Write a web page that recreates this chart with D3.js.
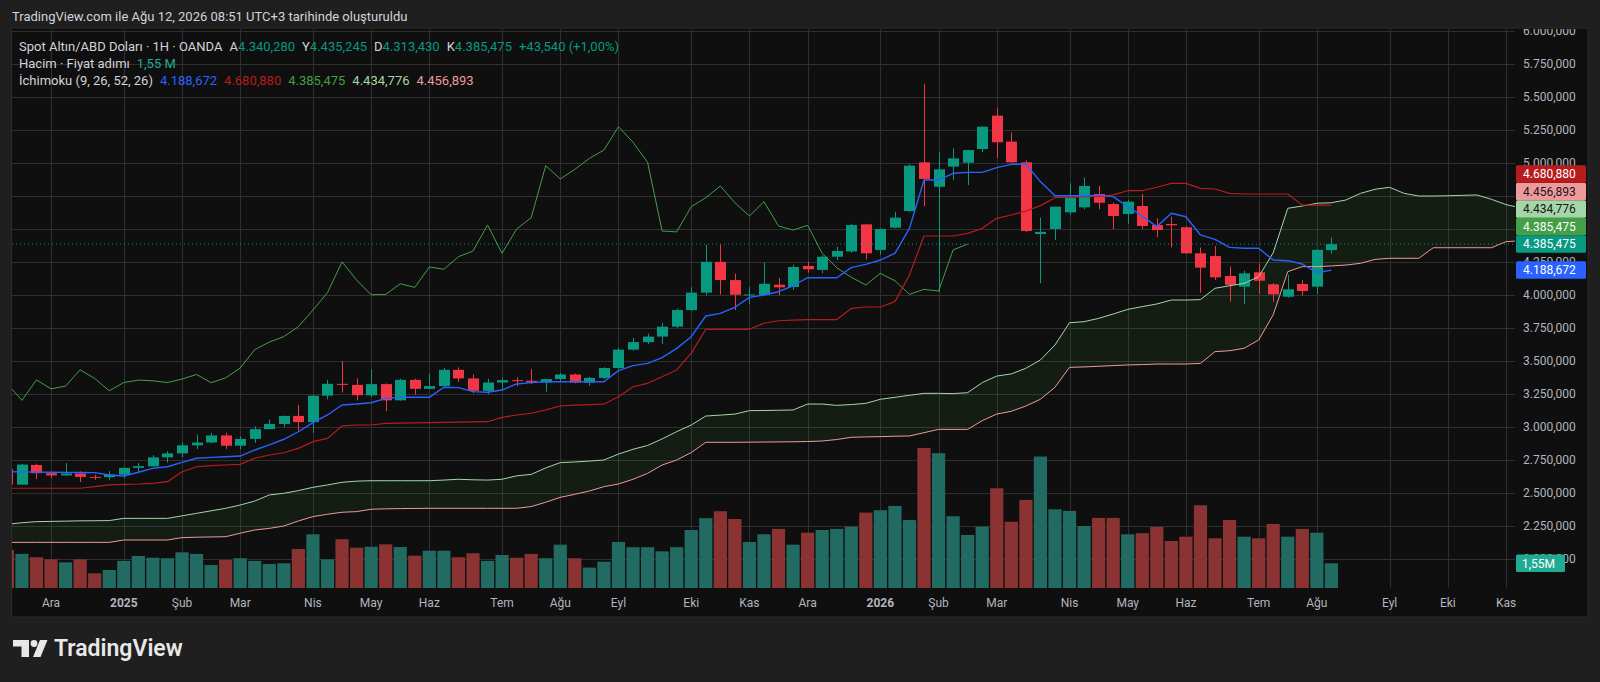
<!DOCTYPE html>
<html lang="tr">
<head>
<meta charset="utf-8">
<title>Spot Altın/ABD Doları · 1H · OANDA</title>
<script src="https://cdnjs.cloudflare.com/ajax/libs/d3/7.8.5/d3.min.js"></script>
<style>
  html, body { margin: 0; padding: 0; background: #1f1f1f; }
  svg { display: block; font-family: Roboto, "Noto Sans", sans-serif; }
</style>
</head>
<body>
<svg id="chart"></svg>
<script>
// weekly bars, Monday 2024-11-11 ... Monday 2026-08-10 (92 bars)
const opens = [2684,2563,2712,2650,2633,2648,2622,2620,2639,2690,2702,2770,2800,2861,2883,2936,2858,2910,2984,3023,
  3084,3037,3237,3327,3319,3240,3325,3202,3357,3289,3310,3433,3368,3274,3337,3355,3350,3337,3363,3398,
  3336,3372,3447,3586,3643,3685,3760,3886,4018,4251,4113,3998,4000,4078,4060,4220,4190,4290,4330,4535,
  4341,4510,4636,5005,4820,4973,5002,5106,5359,5162,5005,4462,4500,4626,4664,4765,4689,4614,4674,4530,
  4538,4513,4316,4295,4144,4063,4172,4081,3987,4083,4063,4340.28];
const highs = [2690,2721,2722,2658,2726,2664,2639,2665,2694,2726,2786,2817,2886,2942,2955,2956,2930,3005,3057,3086,
  3167,3245,3357,3500,3369,3435,3330,3366,3366,3403,3446,3452,3398,3365,3375,3377,3439,3363,3409,3404,
  3379,3453,3599,3675,3707,3790,3897,4059,4380,4381,4161,4060,4245,4130,4230,4252,4300,4366,4540,4540,
  4505,4631,4990,5598,5081,5111,5100,5280,5414,5232,5020,4586,4670,4846,4889,4826,4700,4720,4765,4581,
  4593,4520,4360,4371,4215,4184,4240,4090,4152,4114,4345,4435.245];
const lows = [2537,2563,2605,2614,2632,2583,2600,2596,2614,2656,2700,2730,2772,2832,2877,2833,2832,2880,2982,3000,
  2971,2957,3210,3260,3202,3228,3120,3200,3245,3285,3293,3340,3255,3247,3282,3309,3325,3268,3346,3331,
  3311,3364,3436,3578,3627,3630,3750,3880,3998,4004,3886,3930,3998,3998,4038,4170,4165,4265,4320,4270,
  4305,4505,4630,4674,4020,4871,4833,5081,5038,5000,4475,4089,4417,4606,4650,4649,4500,4540,4500,4437,
  4361,4310,4017,4114,3949,3932,4008,3949,3980,3995,4008,4313.43];
const closes = [2563,2715,2650,2633,2648,2622,2621,2640,2690,2703,2770,2800,2861,2882,2936,2858,2910,2984,3023,3084,
  3037,3237,3327,3319,3241,3325,3202,3357,3289,3310,3433,3368,3274,3337,3355,3350,3337,3363,3398,3336,
  3372,3447,3586,3643,3685,3760,3886,4018,4251,4113,4002,4004,4085,4058,4212,4195,4290,4333,4530,4316,
  4500,4586,4980,4879,4952,5035,5098,5275,5157,5005,4485,4478,4669,4737,4826,4699,4598,4707,4523,4492,
  4528,4316,4207,4134,4076,4164,4108,4005,4043,4030,4341.935,4385.475];
// volume in millions
const volumes = [2.39,2.14,1.93,1.80,1.61,1.80,0.92,1.13,1.70,2.01,1.90,1.87,2.24,2.14,1.44,1.76,1.87,1.70,1.51,1.55,
  2.45,3.37,1.80,3.06,2.53,2.59,2.74,2.57,2.03,2.34,2.34,1.93,2.18,1.70,2.07,1.90,2.14,1.87,2.72,1.87,
  1.28,1.65,2.89,2.56,2.56,2.30,2.56,3.64,4.38,4.82,4.33,2.89,3.37,3.71,2.72,3.47,3.64,3.71,3.85,4.73,
  4.88,5.15,4.27,8.79,8.46,4.50,3.33,3.85,6.26,4.16,5.53,8.25,4.94,4.84,3.89,4.40,4.40,3.37,3.44,3.83,
  2.95,3.22,5.19,3.12,4.27,3.22,3.12,4.02,3.22,3.71,3.47,1.55];
// Ichimoku (9, 26, 52, 26)
const conversion = [2661,2660,2658,2657,2656,2655,2654,2636,2629,2657,2687,2699,2732,2763,2770,2775,2780,2826,2864,2907,
  2964,3033,3091,3167,3174,3184,3217,3225,3225,3225,3301,3298,3268,3263,3280,3326,3336,3343,3343,3343,
  3343,3343,3427,3465,3482,3525,3596,3684,3841,3861,3907,3982,4000,4025,4070,4131,4131,4131,4207,4232,
  4265,4316,4505,4871,4871,4922,4929,4929,4965,4990,4990,4859,4752,4752,4752,4755,4745,4669,4598,4518,
  4619,4593,4455,4422,4361,4354,4354,4265,4260,4235,4169,4188.672];
const baseLine = [2536,2536,2536,2536,2536,2536,2548,2561,2566,2568,2573,2586,2661,2699,2707,2712,2717,2763,2788,2805,
  2838,2889,2914,3008,3015,3015,3028,3030,3031,3033,3035,3037,3039,3040,3073,3091,3104,3130,3159,3165,
  3170,3174,3229,3305,3331,3381,3432,3560,3740,3740,3740,3740,3786,3805,3810,3814,3814,3814,3898,3909,
  3909,3950,4152,4447,4447,4447,4467,4505,4581,4606,4636,4677,4737,4740,4745,4745,4758,4790,4790,4816,
  4846,4846,4808,4803,4770,4765,4765,4765,4765,4681,4681,4680.88];
// leading spans, bar 0 ... bar 104 (shifted ahead of price)
const leadA = [2263,2275,2283,2285,2287,2289,2290,2291,2308,2308,2308,2308,2327,2346,2365,2384,2409,2439,2485,2498,
  2518,2543,2561,2581,2590,2593,2593,2593,2593,2593,2598,2604,2600,2598,2604,2630,2641,2690,2730,2735,
  2742,2750,2795,2831,2860,2910,2965,3015,3083,3090,3098,3124,3125,3127,3129,3174,3174,3164,3170,3179,
  3210,3225,3240,3255,3255,3253,3260,3336,3386,3402,3445,3508,3621,3790,3798,3823,3856,3891,3912,3932,
  3962,3962,3965,4051,4070,4088,4139,4320,4657,4674,4695,4699,4720,4770,4801,4816,4770,4750,4750,4752,
  4755,4758,4725,4685,4660];
const leadB = [2126,2126,2126,2126,2126,2126,2126,2126,2144,2144,2144,2144,2162,2165,2167,2169,2195,2220,2232,2250,
  2288,2321,2339,2354,2359,2377,2380,2382,2383,2384,2384,2384,2384,2384,2384,2384,2397,2430,2467,2490,
  2515,2548,2568,2604,2649,2712,2750,2806,2884,2884,2884,2885,2886,2887,2888,2890,2894,2905,2922,2925,
  2927,2930,2932,2957,2982,2982,2982,3048,3098,3119,3159,3210,3301,3452,3455,3460,3465,3470,3473,3477,
  3477,3477,3482,3571,3578,3596,3659,3850,4177,4215,4215,4220,4227,4240,4270,4278,4278,4278,4358,4358,
  4358,4358,4358,4404,4411];
// the five Ichimoku values of the last bar, as shown in the legend
const ichimokuLast = [4188.672, 4680.880, 4385.475, 4434.776, 4456.893];

const priceTicks = d3.range(2000, 6001, 250);
const monthLabels = ["Ara","2025","Şub","Mar","Nis","May","Haz","Tem","Ağu","Eyl","Eki","Kas",
  "Ara","2026","Şub","Mar","Nis","May","Haz","Tem","Ağu","Eyl","Eki","Kas"];

(function(){
    "use strict";

    const width = 1600, height = 682;
    const plot = {left: 12, right: 1515, top: 28, bottom: 588};
    const up = "#089981", down = "#f23645";
    const volUp = "#226b62", volDown = "#8b3333";
    const textCol = "#d1d4dc", axisCol = "#b2b5be";

    const tr = d3.formatLocale({decimal: ",", thousands: ".", grouping: [3], currency: ["", ""]});
    const fmt = tr.format(",.3f");

    const start = new Date(Date.UTC(2024, 10, 11));
    const bars = d3.utcMonday.range(start, new Date(Date.UTC(2026, 7, 11)));
    const leadDays = d3.utcMonday.range(start, new Date(Date.UTC(2026, 10, 10)));
    const lagShift = 25;   // TradingView plots lagging / leading spans with displacement - 1

    const x = d3.scaleUtc()
        .domain([start, new Date(Date.UTC(2026, 10, 2))])
        .range([7.4, 1506]);
    const y = d3.scaleLinear().domain([2000, 6000]).range([559, 31]);
    const yVol = d3.scaleLinear().domain([0, 1.55]).range([plot.bottom, 563.3]);

    const svg = d3.select("#chart")
        .attr("width", width)
        .attr("height", height)
        .style("background", "#1f1f1f");

    svg.append("text")
        .attr("x", 12).attr("y", 21)
        .attr("fill", textCol).attr("font-size", 13)
        .text("TradingView.com ile Ağu 12, 2026 08:51 UTC+3 tarihinde oluşturuldu");

    // panel
    svg.append("rect")
        .attr("x", 11.5).attr("y", plot.top)
        .attr("width", 1588 - 11.5).attr("height", 617 - plot.top)
        .attr("fill", "#0f0f0f").attr("stroke", "#2a2a2a");

    const defs = svg.append("defs");
    defs.append("clipPath").attr("id", "plotClip").append("rect")
        .attr("x", plot.left).attr("y", plot.top + 1)
        .attr("width", plot.right - plot.left).attr("height", plot.bottom - plot.top - 1);
    defs.append("clipPath").attr("id", "axisClip").append("rect")
        .attr("x", plot.right).attr("y", plot.top + 1)
        .attr("width", 1588 - plot.right).attr("height", plot.bottom - plot.top);

    const g = svg.append("g").attr("clip-path", "url(#plotClip)");

    // grid
    const monthTicks = d3.utcMonths(new Date(Date.UTC(2024, 11, 1)), new Date(Date.UTC(2026, 11, 1)))
        .map(m => d3.utcMonday.ceil(m));
    g.append("g").selectAll("line").data(priceTicks).join("line")
        .attr("x1", plot.left).attr("x2", plot.right)
        .attr("y1", d => Math.round(y(d)) + 0.5).attr("y2", d => Math.round(y(d)) + 0.5)
        .attr("stroke", "#2f2f2f");
    g.append("g").selectAll("line").data(monthTicks).join("line")
        .attr("x1", d => Math.round(x(d)) + 0.5).attr("x2", d => Math.round(x(d)) + 0.5)
        .attr("y1", plot.top).attr("y2", plot.bottom)
        .attr("stroke", "#2f2f2f");

    const idx = d3.range(closes.length);
    const isUp = i => closes[i] >= opens[i];

    // volume
    g.append("g").selectAll("rect").data(idx).join("rect")
        .attr("x", i => x(bars[i]) - 6.6)
        .attr("width", 13.2)
        .attr("y", i => yVol(volumes[i]))
        .attr("height", i => plot.bottom - yVol(volumes[i]))
        .attr("fill", i => isUp(i) ? volUp : volDown);

    // cloud (span A stays above span B over the whole visible range)
    const lead = d3.range(leadA.length).map(i => ({date: leadDays[i], a: leadA[i], b: leadB[i]}));
    g.append("path").datum(lead)
        .attr("fill", "rgba(67,160,71,0.1)")
        .attr("d", d3.area().x(d => x(d.date)).y0(d => y(d.b)).y1(d => y(d.a)));

    const line = d3.line().x(d => x(d.date)).y(d => y(d.v));
    function drawLine(data, color, w) {
        g.append("path").datum(data)
            .attr("fill", "none").attr("stroke", color).attr("stroke-width", w)
            .attr("stroke-linejoin", "round")
            .attr("d", line);
    }

    // candles
    const cg = g.append("g");
    cg.selectAll("line").data(idx).join("line")
        .attr("x1", i => Math.round(x(bars[i])) + 0.5).attr("x2", i => Math.round(x(bars[i])) + 0.5)
        .attr("y1", i => y(highs[i])).attr("y2", i => y(lows[i]))
        .attr("stroke", i => isUp(i) ? up : down);
    cg.selectAll("rect").data(idx).join("rect")
        .attr("x", i => Math.round(x(bars[i])) - 5)
        .attr("width", 11)
        .attr("y", i => y(Math.max(opens[i], closes[i])))
        .attr("height", i => Math.max(1, Math.abs(y(opens[i]) - y(closes[i]))))
        .attr("fill", i => isUp(i) ? up : down);

    // Ichimoku lines
    drawLine(lead.map(d => ({date: d.date, v: d.a})), "#a5d6a7", 1);
    drawLine(lead.map(d => ({date: d.date, v: d.b})), "#ef9a9a", 1);
    drawLine(idx.map(i => ({date: d3.utcMonday.offset(bars[i], -lagShift), v: closes[i]})), "#43a047", 1);
    drawLine(idx.map(i => ({date: bars[i], v: baseLine[i]})), "#b71c1c", 1.2);
    drawLine(idx.map(i => ({date: bars[i], v: conversion[i]})), "#2962ff", 1.4);

    // last price line
    const last = closes.length - 1;
    g.append("line")
        .attr("x1", plot.left).attr("x2", plot.right)
        .attr("y1", y(closes[last])).attr("y2", y(closes[last]))
        .attr("stroke", up).attr("stroke-dasharray", "1,3");

    // price axis
    const ax = svg.append("g").attr("clip-path", "url(#axisClip)");
    ax.selectAll("text").data(priceTicks).join("text")
        .attr("x", 1523).attr("y", d => y(d))
        .attr("dy", "0.35em")
        .attr("fill", axisCol).attr("font-size", 12)
        .text(d => fmt(d));

    // time axis
    svg.append("g").selectAll("text").data(monthTicks).join("text")
        .attr("x", d => x(d)).attr("y", 607)
        .attr("text-anchor", "middle")
        .attr("fill", axisCol).attr("font-size", 12)
        .attr("font-weight", (d, i) => /^\d+$/.test(monthLabels[i]) ? 700 : 400)
        .text((d, i) => monthLabels[i]);

    // price label boxes: last price stays, others stack above / below it
    const boxH = 17.5;
    const lastY = y(closes[last]);
    const aboveBoxes = [
        {v: ichimokuLast[2], bg: "#43a047", fg: "#ffffff"},
        {v: ichimokuLast[3], bg: "#a5d6a7", fg: "#131722"},
        {v: ichimokuLast[4], bg: "#ef9a9a", fg: "#131722"},
        {v: ichimokuLast[1], bg: "#b71c1c", fg: "#ffffff"}
    ];
    let prev = lastY;
    const boxes = [{v: closes[last], bg: up, fg: "#ffffff", cy: lastY}];
    aboveBoxes.forEach(b => {
        b.cy = Math.min(y(b.v), prev - boxH);
        prev = b.cy;
        boxes.push(b);
    });
    boxes.push({v: ichimokuLast[0], bg: "#2962ff", fg: "#ffffff",
        cy: Math.max(y(ichimokuLast[0]), lastY + boxH)});

    const bx = svg.append("g");
    bx.selectAll("rect").data(boxes).join("rect")
        .attr("x", 1516).attr("width", 70)
        .attr("y", d => d.cy - boxH / 2).attr("height", boxH)
        .attr("rx", 1.5)
        .attr("fill", d => d.bg);
    bx.selectAll("text").data(boxes).join("text")
        .attr("x", 1523).attr("y", d => d.cy).attr("dy", "0.35em")
        .attr("fill", d => d.fg).attr("font-size", 12)
        .text(d => fmt(d.v));

    // volume label
    const volText = tr.format(".2f")(volumes[last]) + "M";
    svg.append("rect")
        .attr("x", 1516).attr("width", 49)
        .attr("y", yVol(volumes[last]) - 8.75).attr("height", boxH)
        .attr("rx", 1.5).attr("fill", "#22ab94");
    svg.append("text")
        .attr("x", 1522).attr("y", yVol(volumes[last])).attr("dy", "0.35em")
        .attr("fill", "#ffffff").attr("font-size", 12)
        .text(volText);

    // legend
    const change = closes[last] - closes[last - 1];
    const pct = change / closes[last - 1] * 100;
    const l1 = svg.append("text").attr("x", 19).attr("y", 51).attr("font-size", 13).attr("fill", textCol);
    l1.append("tspan").text("Spot Altın/ABD Doları · 1H · OANDA");
    [["A", opens[last]], ["Y", highs[last]], ["D", lows[last]], ["K", closes[last]]].forEach(([k, v]) => {
        l1.append("tspan").attr("dx", 7).text(k);
        l1.append("tspan").attr("fill", up).text(fmt(v));
    });
    l1.append("tspan").attr("dx", 7).attr("fill", up)
        .text(tr.format("+,.3f")(change) + " (" + tr.format("+.2f")(pct) + "%)");

    const l2 = svg.append("text").attr("x", 19).attr("y", 68).attr("font-size", 13).attr("fill", textCol);
    l2.append("tspan").text("Hacim · Fiyat adımı");
    l2.append("tspan").attr("dx", 7).attr("fill", "#22ab94").text(tr.format(".2f")(volumes[last]) + " M");

    const l3 = svg.append("text").attr("x", 19).attr("y", 85).attr("font-size", 13).attr("fill", textCol);
    l3.append("tspan").text("İchimoku (9, 26, 52, 26)");
    const legCols = ["#2962ff", "#b71c1c", "#43a047", "#a5d6a7", "#ef9a9a"];
    ichimokuLast.forEach((v, i) => {
        l3.append("tspan").attr("dx", 7).attr("fill", legCols[i]).text(fmt(v));
    });

    // TradingView logo
    const logo = svg.append("g").attr("fill", "#e8e8e8");
    logo.append("path").attr("d", "M13,640 H29 V657 H21.5 V646.5 H13 Z");
    logo.append("circle").attr("cx", 34).attr("cy", 643.5).attr("r", 3.4);
    logo.append("path").attr("d", "M40,640 H47.5 L40.5,657 H33 Z");
    svg.append("text")
        .attr("x", 54).attr("y", 655.5)
        .attr("fill", "#e8e8e8").attr("font-size", 23).attr("font-weight", 600)
        .text("TradingView");
})();
</script>
</body>
</html>
